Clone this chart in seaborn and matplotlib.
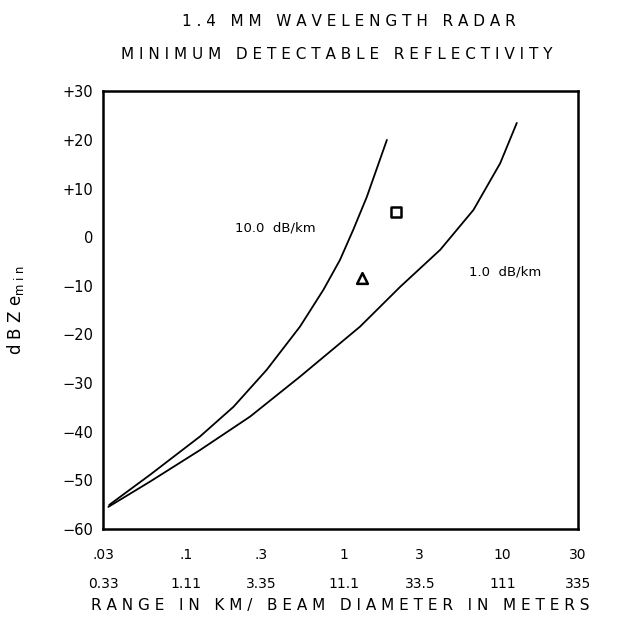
import matplotlib
matplotlib.use("Agg")
import matplotlib.pyplot as plt
import seaborn as sns

sns.set_theme(style="white")
plt.rcParams["font.family"] = ["DejaVu Sans"]
plt.rcParams["text.color"] = "black"
plt.rcParams["axes.labelcolor"] = "black"

# values (range km, dBZe min)
range_10db = [0.0328, 0.0594, 0.123, 0.20, 0.324, 0.526, 0.74, 0.94, 1.14, 1.39, 1.86]
dbz_10db = [-55.1, -48.9, -41.0, -34.9, -27.3, -18.4, -10.8, -4.7, 1.5, 8.3, 20.0]
range_1db = [0.0324, 0.0594, 0.123, 0.255, 0.526, 1.26, 2.26, 4.04, 6.55, 9.66, 12.3]
dbz_1db = [-55.5, -50.3, -43.8, -36.9, -28.7, -18.4, -10.2, -2.6, 5.6, 15.2, 23.5]

square_pt = (2.13, 5.1)
triangle_pt = (1.30, -8.5)

km_ticks = [0.03, 0.1, 0.3, 1, 3, 10, 30]
km_labels = [".03", ".1", ".3", "1", "3", "10", "30"]
beam_labels = ["0.33", "1.11", "3.35", "11.1", "33.5", "111", "335"]
y_ticks = [-60, -50, -40, -30, -20, -10, 0, 10, 20, 30]
y_labels = ["\u221260", "\u221250", "\u221240", "\u221230", "\u221220", "\u221210",
            "0", "+10", "+20", "+30"]

fig = plt.figure(figsize=(6.17, 6.17), dpi=100)
ax = fig.add_axes([0.167, 0.143, 0.77, 0.709])

sns.lineplot(x=range_10db, y=dbz_10db, ax=ax, color="black", linewidth=1.3)
sns.lineplot(x=range_1db, y=dbz_1db, ax=ax, color="black", linewidth=1.3)
sns.scatterplot(x=[square_pt[0]], y=[square_pt[1]], marker="s", s=55,
                facecolor="white", edgecolor="black", linewidth=1.8, ax=ax)
sns.scatterplot(x=[triangle_pt[0]], y=[triangle_pt[1]], marker="^", s=60,
                facecolor="white", edgecolor="black", linewidth=1.8, ax=ax)

ax.set_xscale("log")
ax.set_xlim(0.03, 30)
ax.set_ylim(-60, 30)
ax.set_xticks(km_ticks)
ax.set_xticklabels([f"{a}\n\n{b}" for a, b in zip(km_labels, beam_labels)],
                   fontsize=10, linespacing=1.05)
ax.xaxis.set_minor_locator(matplotlib.ticker.NullLocator())
ax.set_yticks(y_ticks)
ax.set_yticklabels(y_labels, fontsize=10.5)
ax.tick_params(axis="x", direction="in", length=6, width=1.2, pad=14, colors="black")
ax.tick_params(axis="y", direction="inout", length=8, width=1.2, pad=3, colors="black")
for s in ax.spines.values():
    s.set_color("black")
    s.set_linewidth(1.8)

ax.text(0.205, 1.8, "10.0  dB/km", fontsize=9.5, va="center", ha="left")
ax.text(6.1, -7.1, "1.0  dB/km", fontsize=9.5, va="center", ha="left")

ax.set_xlabel("R A N G E   I N   K M /   B E A M   D I A M E T E R   I N   M E T E R S",
              fontsize=11, labelpad=5)
ax.set_ylabel("d B Z e$_{\\mathrm{m\\ i\\ n}}$", fontsize=12, labelpad=26)

fig.text(0.565, 0.965, "1 . 4   M M   W A V E L E N G T H   R A D A R",
         ha="center", va="center", fontsize=11)
fig.text(0.545, 0.912, "M I N I M U M   D E T E C T A B L E   R E F L E C T I V I T Y",
         ha="center", va="center", fontsize=11)

fig.savefig("out.png", dpi=100, facecolor="white")
